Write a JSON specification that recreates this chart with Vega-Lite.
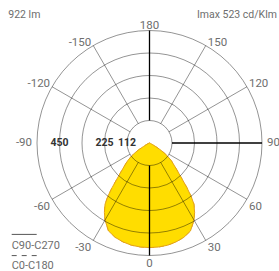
{
  "$schema": "https://vega.github.io/schema/vega-lite/v6.json",
  "width": 279,
  "height": 271,
  "padding": 0,
  "autosize": {"type": "none"},
  "background": "white",
  "config": {"view": {"stroke": null}, "text": {"font": "Roboto"}},
  "datasets": {
    "curve": [
      {"plane": "C90-C270", "angle": -90, "intensity": 0},
      {"plane": "C90-C270", "angle": -70, "intensity": 0},
      {"plane": "C90-C270", "angle": -66, "intensity": 5},
      {"plane": "C90-C270", "angle": -63, "intensity": 15},
      {"plane": "C90-C270", "angle": -60, "intensity": 35},
      {"plane": "C90-C270", "angle": -58, "intensity": 60},
      {"plane": "C90-C270", "angle": -56, "intensity": 87},
      {"plane": "C90-C270", "angle": -54, "intensity": 110},
      {"plane": "C90-C270", "angle": -51, "intensity": 140},
      {"plane": "C90-C270", "angle": -48, "intensity": 165},
      {"plane": "C90-C270", "angle": -45, "intensity": 198},
      {"plane": "C90-C270", "angle": -42, "intensity": 245},
      {"plane": "C90-C270", "angle": -40, "intensity": 290},
      {"plane": "C90-C270", "angle": -38, "intensity": 338},
      {"plane": "C90-C270", "angle": -36, "intensity": 378},
      {"plane": "C90-C270", "angle": -33, "intensity": 414},
      {"plane": "C90-C270", "angle": -30, "intensity": 445},
      {"plane": "C90-C270", "angle": -25, "intensity": 485},
      {"plane": "C90-C270", "angle": -20, "intensity": 502},
      {"plane": "C90-C270", "angle": -15, "intensity": 512},
      {"plane": "C90-C270", "angle": -10, "intensity": 519},
      {"plane": "C90-C270", "angle": -5, "intensity": 522},
      {"plane": "C90-C270", "angle": 0, "intensity": 523},
      {"plane": "C90-C270", "angle": 5, "intensity": 522},
      {"plane": "C90-C270", "angle": 10, "intensity": 519},
      {"plane": "C90-C270", "angle": 15, "intensity": 512},
      {"plane": "C90-C270", "angle": 20, "intensity": 502},
      {"plane": "C90-C270", "angle": 25, "intensity": 485},
      {"plane": "C90-C270", "angle": 30, "intensity": 445},
      {"plane": "C90-C270", "angle": 33, "intensity": 414},
      {"plane": "C90-C270", "angle": 36, "intensity": 378},
      {"plane": "C90-C270", "angle": 38, "intensity": 338},
      {"plane": "C90-C270", "angle": 40, "intensity": 290},
      {"plane": "C90-C270", "angle": 42, "intensity": 245},
      {"plane": "C90-C270", "angle": 45, "intensity": 198},
      {"plane": "C90-C270", "angle": 48, "intensity": 165},
      {"plane": "C90-C270", "angle": 51, "intensity": 140},
      {"plane": "C90-C270", "angle": 54, "intensity": 110},
      {"plane": "C90-C270", "angle": 56, "intensity": 87},
      {"plane": "C90-C270", "angle": 58, "intensity": 60},
      {"plane": "C90-C270", "angle": 60, "intensity": 35},
      {"plane": "C90-C270", "angle": 63, "intensity": 15},
      {"plane": "C90-C270", "angle": 66, "intensity": 5},
      {"plane": "C90-C270", "angle": 70, "intensity": 0},
      {"plane": "C90-C270", "angle": 90, "intensity": 0},
      {"plane": "C0-C180", "angle": -90, "intensity": 0},
      {"plane": "C0-C180", "angle": -70, "intensity": 0},
      {"plane": "C0-C180", "angle": -66, "intensity": 5},
      {"plane": "C0-C180", "angle": -63, "intensity": 15},
      {"plane": "C0-C180", "angle": -60, "intensity": 35},
      {"plane": "C0-C180", "angle": -58, "intensity": 60},
      {"plane": "C0-C180", "angle": -56, "intensity": 87},
      {"plane": "C0-C180", "angle": -54, "intensity": 110},
      {"plane": "C0-C180", "angle": -51, "intensity": 140},
      {"plane": "C0-C180", "angle": -48, "intensity": 165},
      {"plane": "C0-C180", "angle": -45, "intensity": 198},
      {"plane": "C0-C180", "angle": -42, "intensity": 245},
      {"plane": "C0-C180", "angle": -40, "intensity": 290},
      {"plane": "C0-C180", "angle": -38, "intensity": 338},
      {"plane": "C0-C180", "angle": -36, "intensity": 378},
      {"plane": "C0-C180", "angle": -33, "intensity": 414},
      {"plane": "C0-C180", "angle": -30, "intensity": 445},
      {"plane": "C0-C180", "angle": -25, "intensity": 485},
      {"plane": "C0-C180", "angle": -20, "intensity": 502},
      {"plane": "C0-C180", "angle": -15, "intensity": 512},
      {"plane": "C0-C180", "angle": -10, "intensity": 519},
      {"plane": "C0-C180", "angle": -5, "intensity": 522},
      {"plane": "C0-C180", "angle": 0, "intensity": 523},
      {"plane": "C0-C180", "angle": 5, "intensity": 522},
      {"plane": "C0-C180", "angle": 10, "intensity": 519},
      {"plane": "C0-C180", "angle": 15, "intensity": 512},
      {"plane": "C0-C180", "angle": 20, "intensity": 502},
      {"plane": "C0-C180", "angle": 25, "intensity": 485},
      {"plane": "C0-C180", "angle": 30, "intensity": 445},
      {"plane": "C0-C180", "angle": 33, "intensity": 414},
      {"plane": "C0-C180", "angle": 36, "intensity": 378},
      {"plane": "C0-C180", "angle": 38, "intensity": 338},
      {"plane": "C0-C180", "angle": 40, "intensity": 290},
      {"plane": "C0-C180", "angle": 42, "intensity": 245},
      {"plane": "C0-C180", "angle": 45, "intensity": 198},
      {"plane": "C0-C180", "angle": 48, "intensity": 165},
      {"plane": "C0-C180", "angle": 51, "intensity": 140},
      {"plane": "C0-C180", "angle": 54, "intensity": 110},
      {"plane": "C0-C180", "angle": 56, "intensity": 87},
      {"plane": "C0-C180", "angle": 58, "intensity": 60},
      {"plane": "C0-C180", "angle": 60, "intensity": 35},
      {"plane": "C0-C180", "angle": 63, "intensity": 15},
      {"plane": "C0-C180", "angle": 66, "intensity": 5},
      {"plane": "C0-C180", "angle": 70, "intensity": 0},
      {"plane": "C0-C180", "angle": 90, "intensity": 0}
    ],
    "circles": [{"r": 112.5}, {"r": 225}, {"r": 337.5}, {"r": 450}, {"r": 562.5}],
    "spokes": [{"angle": -150}, {"angle": -120}, {"angle": -60}, {"angle": -30}, {"angle": 30}, {"angle": 60}, {"angle": 120}, {"angle": 150}],
    "mainAxes": [{"angle": 0}, {"angle": 90}, {"angle": 180}],
    "angleLabels": [
      {"angle": 180, "label": "180"},
      {"angle": -150, "label": "-150"},
      {"angle": 150, "label": "150"},
      {"angle": -120, "label": "-120"},
      {"angle": 120, "label": "120"},
      {"angle": -90, "label": "-90"},
      {"angle": 90, "label": "90"},
      {"angle": -60, "label": "-60"},
      {"angle": 60, "label": "60"},
      {"angle": -30, "label": "-30"},
      {"angle": 30, "label": "30"},
      {"angle": 0, "label": "0"}
    ],
    "valueLabels": [
      {"value": 112.5, "label": "112"},
      {"value": 225, "label": "225"},
      {"value": 450, "label": "450"}
    ]
  },
  "layer": [
    {
      "data": {"name": "curve"},
      "transform": [
        {"filter": "datum.plane == 'C0-C180'"},
        {"calculate": "datum.intensity*sin(datum.angle*PI/180)", "as": "x"},
        {"calculate": "-datum.intensity*cos(datum.angle*PI/180)", "as": "y"}
      ],
      "mark": {"type": "line", "stroke": "#E3A21A", "strokeWidth": 1, "strokeDash": [5, 5], "interpolate": "linear-closed"},
      "encoding": {
        "x": {"field": "x", "type": "quantitative", "scale": {"domain": [-747.5, 647.5], "nice": false, "zero": false}, "axis": null},
        "y": {"field": "y", "type": "quantitative", "scale": {"domain": [-640, 715], "nice": false, "zero": false}, "axis": null},
        "order": {"field": "angle", "type": "quantitative"}
      }
    },
    {
      "data": {"name": "curve"},
      "transform": [
        {"filter": "datum.plane == 'C90-C270'"},
        {"calculate": "datum.intensity*sin(datum.angle*PI/180)", "as": "x"},
        {"calculate": "-datum.intensity*cos(datum.angle*PI/180)", "as": "y"}
      ],
      "mark": {"type": "line", "fill": "#FFDD00", "stroke": "#E3A21A", "strokeWidth": 1, "interpolate": "linear-closed"},
      "encoding": {
        "x": {"field": "x", "type": "quantitative", "scale": {"domain": [-747.5, 647.5], "nice": false, "zero": false}, "axis": null},
        "y": {"field": "y", "type": "quantitative", "scale": {"domain": [-640, 715], "nice": false, "zero": false}, "axis": null},
        "order": {"field": "angle", "type": "quantitative"}
      }
    },
    {
      "data": {"name": "circles"},
      "mark": {"type": "arc", "theta": 0, "theta2": 6.2832, "filled": false, "stroke": "#000000", "strokeOpacity": 0.42, "strokeWidth": 1},
      "encoding": {
        "x": {"datum": 0, "type": "quantitative", "scale": {"domain": [-747.5, 647.5], "nice": false, "zero": false}, "axis": null},
        "y": {"datum": 0, "type": "quantitative", "scale": {"domain": [-640, 715], "nice": false, "zero": false}, "axis": null},
        "radius": {"field": "r", "type": "quantitative", "stack": null, "scale": {"type": "linear", "domain": [0, 562.5], "range": [0, 112.5], "zero": true}}
      }
    },
    {
      "data": {"name": "spokes"},
      "transform": [
        {"calculate": "112.5*sin(datum.angle*PI/180)", "as": "x"},
        {"calculate": "-112.5*cos(datum.angle*PI/180)", "as": "y"},
        {"calculate": "562.5*sin(datum.angle*PI/180)", "as": "x2"},
        {"calculate": "-562.5*cos(datum.angle*PI/180)", "as": "y2"}
      ],
      "mark": {"type": "rule", "stroke": "#000000", "strokeOpacity": 0.42, "strokeWidth": 1},
      "encoding": {
        "x": {"field": "x", "type": "quantitative", "scale": {"domain": [-747.5, 647.5], "nice": false, "zero": false}, "axis": null},
        "y": {"field": "y", "type": "quantitative", "scale": {"domain": [-640, 715], "nice": false, "zero": false}, "axis": null},
        "x2": {"field": "x2"},
        "y2": {"field": "y2"}
      }
    },
    {
      "data": {"name": "mainAxes"},
      "transform": [
        {"calculate": "112.5*sin(datum.angle*PI/180)", "as": "x"},
        {"calculate": "-112.5*cos(datum.angle*PI/180)", "as": "y"},
        {"calculate": "562.5*sin(datum.angle*PI/180)", "as": "x2"},
        {"calculate": "-562.5*cos(datum.angle*PI/180)", "as": "y2"}
      ],
      "mark": {"type": "rule", "stroke": "#000000", "strokeWidth": 1.3},
      "encoding": {
        "x": {"field": "x", "type": "quantitative", "scale": {"domain": [-747.5, 647.5], "nice": false, "zero": false}, "axis": null},
        "y": {"field": "y", "type": "quantitative", "scale": {"domain": [-640, 715], "nice": false, "zero": false}, "axis": null},
        "x2": {"field": "x2"},
        "y2": {"field": "y2"}
      }
    },
    {
      "data": {"name": "angleLabels"},
      "transform": [
        {"calculate": "562.5*sin(datum.angle*PI/180)", "as": "x"},
        {"calculate": "-562.5*cos(datum.angle*PI/180)", "as": "y"}
      ],
      "mark": {
        "type": "text",
        "fontSize": 11.5,
        "color": "#6e6e6e",
        "align": {"expr": "(datum.angle == 0 || abs(datum.angle) == 180) ? 'center' : (datum.angle < 0 ? 'right' : 'left')"},
        "baseline": {"expr": "abs(datum.angle) > 90 ? 'alphabetic' : (abs(datum.angle) == 90 ? 'middle' : 'top')"},
        "dx": {"expr": "(datum.angle == 0 || abs(datum.angle) == 180) ? 0 : (abs(datum.angle) == 90 ? (datum.angle < 0 ? -5 : 5) : (datum.angle < 0 ? -2 : 2))"},
        "dy": {"expr": "abs(datum.angle) == 180 ? -2 : (abs(datum.angle) > 90 ? 0 : (abs(datum.angle) == 90 ? 0 : 2))"}
      },
      "encoding": {
        "x": {"field": "x", "type": "quantitative", "scale": {"domain": [-747.5, 647.5], "nice": false, "zero": false}, "axis": null},
        "y": {"field": "y", "type": "quantitative", "scale": {"domain": [-640, 715], "nice": false, "zero": false}, "axis": null},
        "text": {"field": "label"}
      }
    },
    {
      "data": {"name": "valueLabels"},
      "transform": [
        {"calculate": "-datum.value", "as": "x"},
        {"calculate": "0", "as": "y"}
      ],
      "mark": {"type": "text", "fontSize": 10.5, "fontWeight": "bold", "color": "#333333", "align": "center", "baseline": "middle"},
      "encoding": {
        "x": {"field": "x", "type": "quantitative", "scale": {"domain": [-747.5, 647.5], "nice": false, "zero": false}, "axis": null},
        "y": {"field": "y", "type": "quantitative", "scale": {"domain": [-640, 715], "nice": false, "zero": false}, "axis": null},
        "text": {"field": "label"}
      }
    },
    {
      "data": {"values": [{"text": "922 lm"}]},
      "mark": {"type": "text", "fontSize": 10.5, "color": "#6e6e6e", "align": "left", "baseline": "middle"},
      "encoding": {
        "x": {"datum": -706, "type": "quantitative", "scale": {"domain": [-747.5, 647.5], "nice": false, "zero": false}, "axis": null},
        "y": {"datum": 640, "type": "quantitative", "scale": {"domain": [-640, 715], "nice": false, "zero": false}, "axis": null},
        "text": {"field": "text"}
      }
    },
    {
      "data": {"values": [{"text": "Imax 523 cd/Klm"}]},
      "mark": {"type": "text", "fontSize": 10.5, "color": "#6e6e6e", "align": "right", "baseline": "middle"},
      "encoding": {
        "x": {"datum": 637, "type": "quantitative", "scale": {"domain": [-747.5, 647.5], "nice": false, "zero": false}, "axis": null},
        "y": {"datum": 640, "type": "quantitative", "scale": {"domain": [-640, 715], "nice": false, "zero": false}, "axis": null},
        "text": {"field": "text"}
      }
    },
    {
      "data": {"values": [{"plane": "C90-C270"}]},
      "mark": {"type": "rule", "stroke": "#555555", "strokeWidth": 1},
      "encoding": {
        "x": {"datum": -689, "type": "quantitative", "scale": {"domain": [-747.5, 647.5], "nice": false, "zero": false}, "axis": null},
        "x2": {"datum": -564},
        "y": {"datum": -457, "type": "quantitative", "scale": {"domain": [-640, 715], "nice": false, "zero": false}, "axis": null}
      }
    },
    {
      "data": {"values": [{"plane": "C0-C180"}]},
      "mark": {"type": "rule", "stroke": "#555555", "strokeWidth": 1, "strokeDash": [5, 5]},
      "encoding": {
        "x": {"datum": -689, "type": "quantitative", "scale": {"domain": [-747.5, 647.5], "nice": false, "zero": false}, "axis": null},
        "x2": {"datum": -564},
        "y": {"datum": -563, "type": "quantitative", "scale": {"domain": [-640, 715], "nice": false, "zero": false}, "axis": null}
      }
    },
    {
      "data": {"values": [{"plane": "C90-C270"}]},
      "mark": {"type": "text", "fontSize": 11, "color": "#6e6e6e", "align": "left", "baseline": "middle"},
      "encoding": {
        "x": {"datum": -689, "type": "quantitative", "scale": {"domain": [-747.5, 647.5], "nice": false, "zero": false}, "axis": null},
        "y": {"datum": -513, "type": "quantitative", "scale": {"domain": [-640, 715], "nice": false, "zero": false}, "axis": null},
        "text": {"field": "plane"}
      }
    },
    {
      "data": {"values": [{"plane": "C0-C180"}]},
      "mark": {"type": "text", "fontSize": 11, "color": "#6e6e6e", "align": "left", "baseline": "middle"},
      "encoding": {
        "x": {"datum": -689, "type": "quantitative", "scale": {"domain": [-747.5, 647.5], "nice": false, "zero": false}, "axis": null},
        "y": {"datum": -617, "type": "quantitative", "scale": {"domain": [-640, 715], "nice": false, "zero": false}, "axis": null},
        "text": {"field": "plane"}
      }
    }
  ]
}
